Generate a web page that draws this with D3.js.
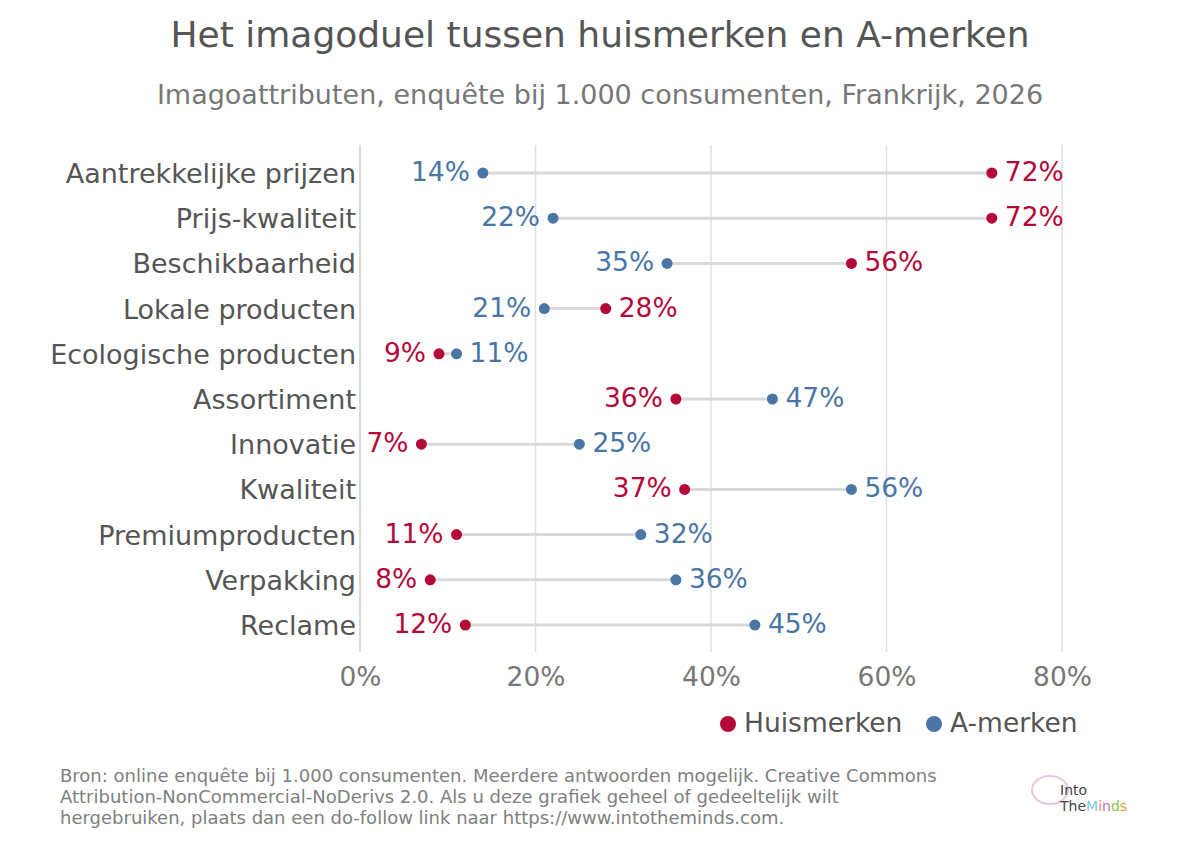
<!DOCTYPE html>
<html><head><meta charset="utf-8">
<script src="https://cdn.jsdelivr.net/npm/d3@7"></script>
<style>
body{margin:0;background:#fff;font-family:"DejaVu Sans",sans-serif;}
</style></head><body>
<svg id="chart" width="1200" height="847"></svg>
<script>
var categories = ["Aantrekkelijke prijzen","Prijs-kwaliteit","Beschikbaarheid","Lokale producten","Ecologische producten","Assortiment","Innovatie","Kwaliteit","Premiumproducten","Verpakking","Reclame"];
var huismerken = [72,72,56,28,9,36,7,37,11,8,12];
var amerken = [14,22,35,21,11,47,25,56,32,36,45];
var ticks = [0,20,40,60,80];
var red = "#b5083a", blue = "#4a76a6";

var svg = d3.select("#chart");
var margin = {top: 150, right: 138, bottom: 195, left: 360};
var x = d3.scaleLinear().domain([0,80]).range([margin.left, 1062]);
var y = d3.scalePoint().domain(categories).range([173, 625]);

svg.append("text").attr("x",600).attr("y",47).attr("text-anchor","middle")
  .style("font-size","36px").style("fill","#555").text("Het imagoduel tussen huismerken en A-merken");
svg.append("text").attr("x",600).attr("y",104).attr("text-anchor","middle")
  .style("font-size","27px").style("fill","#777").text("Imagoattributen, enquête bij 1.000 consumenten, Frankrijk, 2026");

// grid
svg.append("g").selectAll("line").data(ticks.slice(1)).join("line")
  .attr("x1",d=>x(d)).attr("x2",d=>x(d)).attr("y1",145).attr("y2",652)
  .style("stroke","#e0e0e0").style("stroke-width",1.5);
svg.append("line").attr("x1",x(0)).attr("x2",x(0)).attr("y1",145).attr("y2",652)
  .style("stroke","#ccc").style("stroke-width",1.5);

var xAxis = svg.append("g").attr("transform","translate(0,652)")
  .call(d3.axisBottom(x).tickValues(ticks).tickFormat(d=>d+"%").tickSize(0).tickPadding(15));
xAxis.select(".domain").remove();
xAxis.selectAll("text").style("font-size","26.5px").style("fill","#777").style("font-family","DejaVu Sans");

var yAxis = svg.append("g").attr("transform","translate("+(margin.left-4)+",0)")
  .call(d3.axisLeft(y).tickSize(0).tickPadding(0));
yAxis.select(".domain").remove();
yAxis.selectAll("text").style("font-size","27px").style("fill","#555").style("font-family","DejaVu Sans").attr("dy","0.35em");

var rows = categories.map((c,i)=>({c:c,h:huismerken[i],a:amerken[i]}));
var g = svg.append("g");
g.selectAll("line.conn").data(rows).join("line")
  .attr("x1",d=>x(d.h)).attr("x2",d=>x(d.a)).attr("y1",d=>y(d.c)).attr("y2",d=>y(d.c))
  .style("stroke","#d9d9d9").style("stroke-width",3);

function points(key,color){
  g.selectAll("circle."+key).data(rows).join("circle").attr("class",key)
    .attr("cx",d=>x(d[key])).attr("cy",d=>y(d.c)).attr("r",5.5).style("fill",color);
  g.selectAll("text."+key).data(rows).join("text").attr("class",key)
    .attr("x",d=>{var o=d[key]; var other=key=="h"?d.a:d.h; return x(o)+(o>=other?13:-13);})
    .attr("text-anchor",d=>{var o=d[key]; var other=key=="h"?d.a:d.h; return o>=other?"start":"end";})
    .attr("y",d=>y(d.c)).attr("dy","0.3em")
    .style("font-size","26.5px").style("fill",color).text(d=>d[key]+"%");
}
points("h",red);
points("a",blue);

// legend
var leg = svg.append("g");
leg.append("circle").attr("cx",728).attr("cy",724).attr("r",8).style("fill",red);
leg.append("text").attr("x",744).attr("y",732).style("font-size","26.5px").style("fill","#555").text("Huismerken");
leg.append("circle").attr("cx",934).attr("cy",724).attr("r",8).style("fill",blue);
leg.append("text").attr("x",950).attr("y",732).style("font-size","26.5px").style("fill","#555").text("A-merken");

var src = ["Bron: online enquête bij 1.000 consumenten. Meerdere antwoorden mogelijk. Creative Commons",
  "Attribution-NonCommercial-NoDerivs 2.0. Als u deze grafiek geheel of gedeeltelijk wilt",
  "hergebruiken, plaats dan een do-follow link naar https://www.intotheminds.com."];
svg.append("g").selectAll("text").data(src).join("text")
  .attr("x",60).attr("y",(d,i)=>782+i*21).style("font-size","18px").style("fill","#808080").text(d=>d);

// logo
var logo = svg.append("g");
logo.append("ellipse").attr("cx",1050).attr("cy",790).attr("rx",18).attr("ry",14)
  .style("fill","none").style("stroke","#e8c8e0").style("stroke-width",2);
logo.append("text").attr("x",1060).attr("y",795).style("font-size","14px").style("fill","#444").text("Into");
var t = logo.append("text").attr("x",1060).attr("y",811).style("font-size","14px").style("fill","#444");
t.append("tspan").text("The");
t.append("tspan").style("fill","#7cc4e0").text("M");
t.append("tspan").style("fill","#f09040").text("i");
t.append("tspan").style("fill","#c070c0").text("n");
t.append("tspan").style("fill","#90c040").text("d");
t.append("tspan").style("fill","#e0a040").text("s");
</script>
</body></html>
